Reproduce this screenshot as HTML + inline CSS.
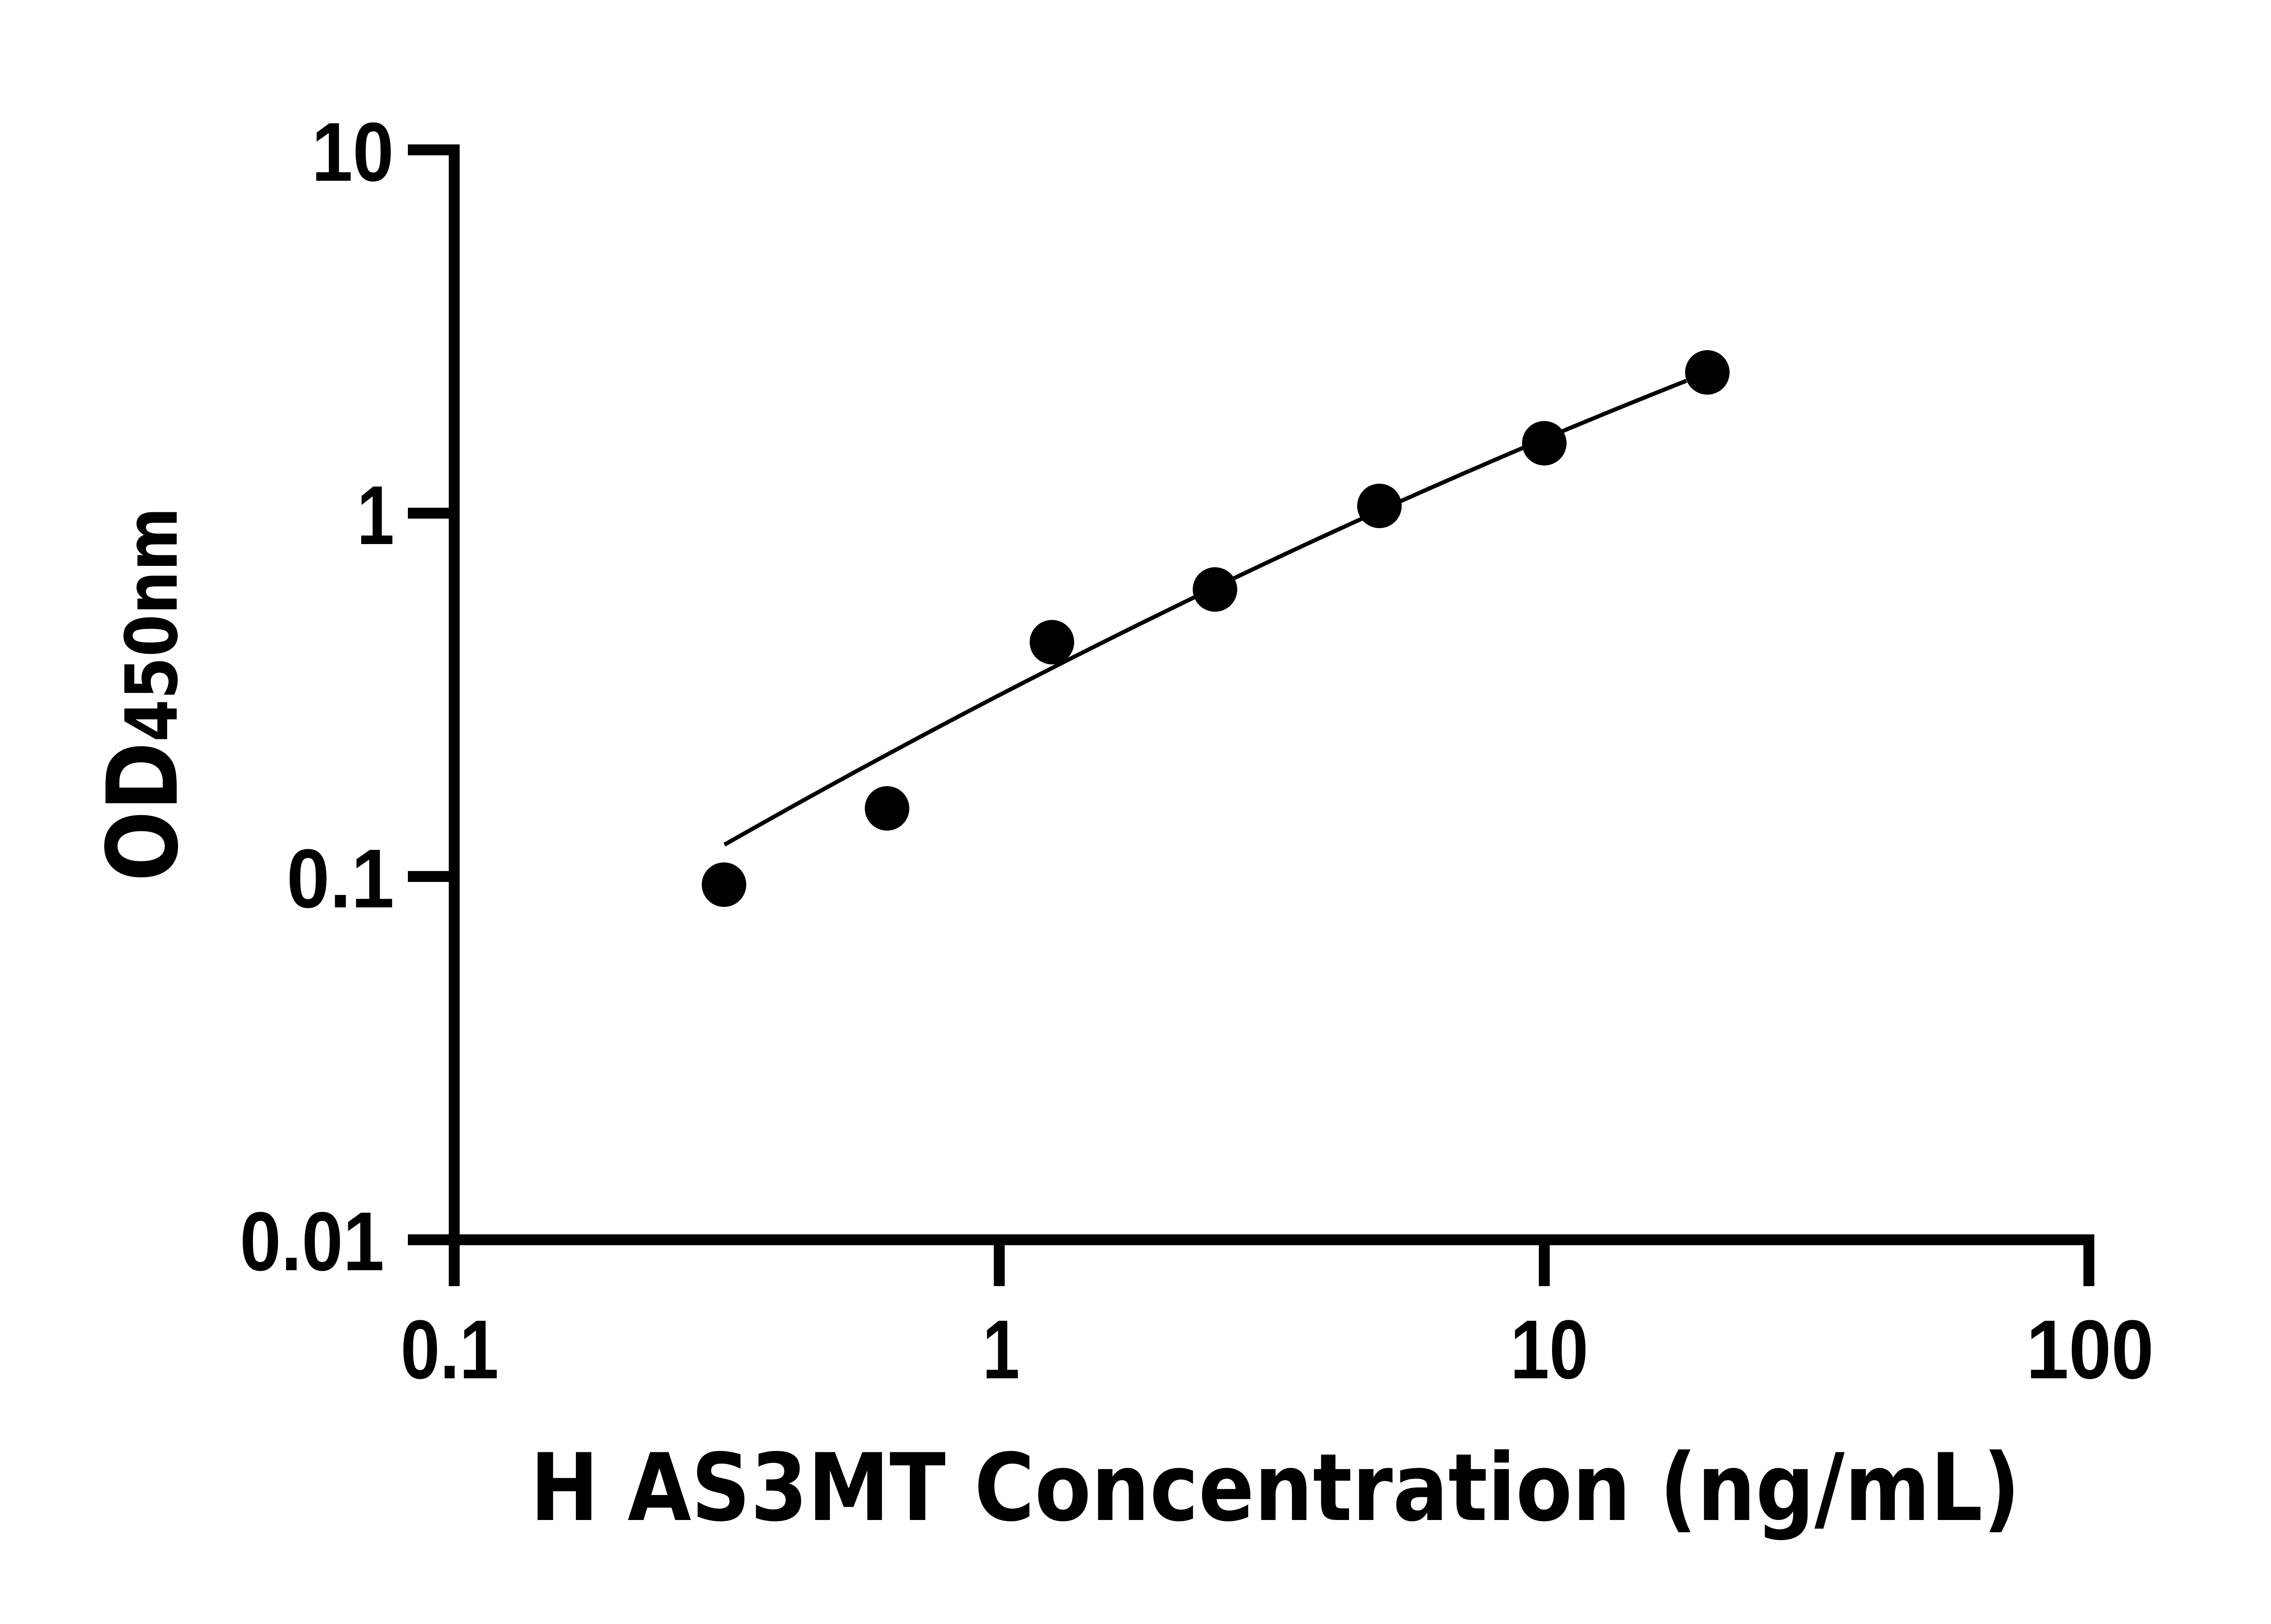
<!DOCTYPE html>
<html><head><meta charset="utf-8"><style>html,body{margin:0;padding:0;background:#fff}svg{display:block}</style></head>
<body>
<svg xmlns="http://www.w3.org/2000/svg" width="5170" height="3576" viewBox="0 0 5170 3576">
<rect width="5170" height="3576" fill="#fff"/>
<g stroke="#000" stroke-width="24" fill="none" stroke-linecap="butt">
<line x1="1000" y1="318" x2="1000" y2="2742"/>
<line x1="988" y1="2730" x2="4611" y2="2730"/>
<line x1="898" y1="330" x2="1012" y2="330"/>
<line x1="898" y1="1130" x2="1000" y2="1130"/>
<line x1="898" y1="1930" x2="1000" y2="1930"/>
<line x1="898" y1="2730" x2="1000" y2="2730"/>
<line x1="1000" y1="2730" x2="1000" y2="2832"/>
<line x1="2200" y1="2730" x2="2200" y2="2832"/>
<line x1="3400" y1="2730" x2="3400" y2="2832"/>
<line x1="4599" y1="2718" x2="4599" y2="2832"/>
</g>
<g font-family="'Liberation Sans',Arial,sans-serif" font-weight="bold" font-size="184" fill="#000">
<text x="686" y="398" textLength="181" lengthAdjust="spacingAndGlyphs">10</text>
<text x="786" y="1198" textLength="82" lengthAdjust="spacingAndGlyphs">1</text>
<text x="631" y="1998" textLength="237" lengthAdjust="spacingAndGlyphs">0.1</text>
<text x="528" y="2797" textLength="318" lengthAdjust="spacingAndGlyphs">0.01</text>
<text x="882" y="3035" textLength="216" lengthAdjust="spacingAndGlyphs">0.1</text>
<text x="2163" y="3035" textLength="82" lengthAdjust="spacingAndGlyphs">1</text>
<text x="3325" y="3035" textLength="172" lengthAdjust="spacingAndGlyphs">10</text>
<text x="4461" y="3035" textLength="281" lengthAdjust="spacingAndGlyphs">100</text>
</g>
<text x="1167" y="3347" font-family="'DejaVu Sans','Liberation Sans',sans-serif" font-weight="bold" font-size="205" textLength="3281" lengthAdjust="spacingAndGlyphs">H AS3MT Concentration (ng/mL)</text>
<text transform="translate(389,1941) rotate(-90)" font-family="'DejaVu Sans','Liberation Sans',sans-serif" font-weight="bold" textLength="824" lengthAdjust="spacingAndGlyphs"><tspan font-size="215">OD</tspan><tspan font-size="158">450nm</tspan></text>
<path id="curve" fill="none" stroke="#000" stroke-width="9" d=""/>
<g fill="#000">
<circle cx="1594" cy="1948" r="49"/>
<circle cx="1953" cy="1780" r="49"/>
<circle cx="2316" cy="1414" r="49"/>
<circle cx="2675" cy="1298" r="49"/>
<circle cx="3037" cy="1114" r="49"/>
<circle cx="3400" cy="976" r="49"/>
<circle cx="3759" cy="820" r="49"/>
</g>
</svg>
<script>
(function(){var d="";for(var i=0;i<=60;i++){var x=1595+(3713-1595)*i/60;var lx=(x-1000)/1200-1;var ly=-0.501+0.779*lx-0.0734*lx*lx;var y=1130-ly*800;d+=(i?"L":"M")+x.toFixed(1)+" "+y.toFixed(1);}document.getElementById("curve").setAttribute("d",d);})();
</script>
</body></html>
